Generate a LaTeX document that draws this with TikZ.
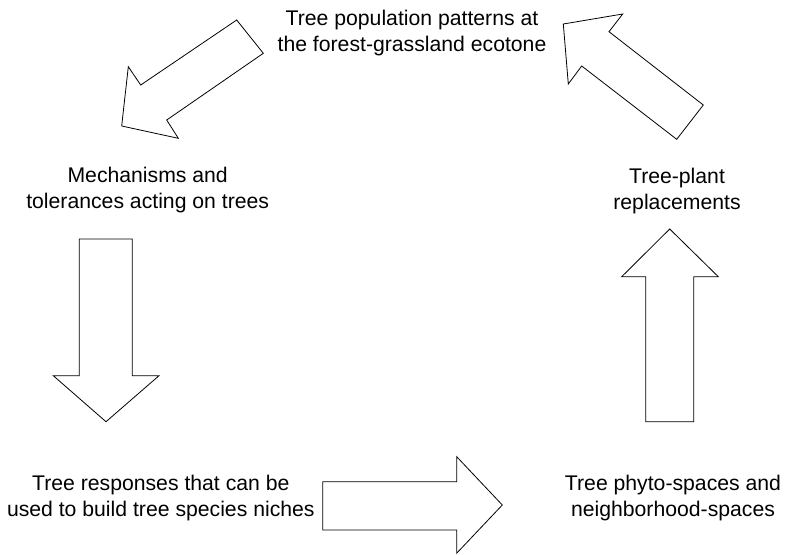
\documentclass[tikz,border=0pt]{standalone}
\usepackage{fontspec}
\setmainfont{Liberation Sans}
\begin{document}
\begin{tikzpicture}[x=1pt,y=-1pt,
  blockarrow/.style={draw=black, line width=0.8pt, line join=miter, fill=white},
  lbl/.style={anchor=base, inner sep=0pt, font=\fontsize{21.2}{26}\selectfont}]
\useasboundingbox (0,0) rectangle (786,554);
% labels
\node[lbl] (top) at (412,25) {\begin{tabular}[t]{@{}c@{}}Tree population patterns at\\the forest-grassland ecotone\end{tabular}};
\node[lbl] (mech) at (147.7,182.3) {\begin{tabular}[t]{@{}c@{}}Mechanisms and\\tolerances acting on trees\end{tabular}};
\node[lbl] (repl) at (677,183.3) {\begin{tabular}[t]{@{}c@{}}Tree-plant\\replacements\end{tabular}};
\node[lbl] (resp) at (160.8,490) {\begin{tabular}[t]{@{}c@{}}Tree responses that can be\\used to build tree species niches\end{tabular}};
\node[lbl] (phyto) at (673,490.7) {\begin{tabular}[t]{@{}c@{}}Tree phyto-spaces and\\neighborhood-spaces\end{tabular}};
% block arrows
\draw[blockarrow] (236.7,20) -- (263.3,53.3) -- (166.7,120) -- (178.3,138.3) -- (121.7,126) -- (128.3,66.7) -- (140.7,85) -- cycle;
\draw[blockarrow] (563.3,24) -- (622.7,14) -- (609,31.7) -- (703.3,105) -- (676.7,139.3) -- (581.7,66) -- (568.3,84) -- cycle;
\draw[blockarrow] (79.3,239) -- (132.3,239) -- (132.3,375.7) -- (159,375.7) -- (106,421.7) -- (53.3,375.7) -- (79.3,375.7) -- cycle;
\draw[blockarrow] (645.7,421.7) -- (693.7,421.7) -- (693.7,276.7) -- (718.3,276.7) -- (669.7,229) -- (621.7,276.7) -- (645.7,276.7) -- cycle;
\draw[blockarrow] (322.7,481.7) -- (456.7,481.7) -- (456.7,456.7) -- (502.3,505) -- (456.7,553.2) -- (456.7,530) -- (322.7,530) -- cycle;
\end{tikzpicture}
\end{document}
